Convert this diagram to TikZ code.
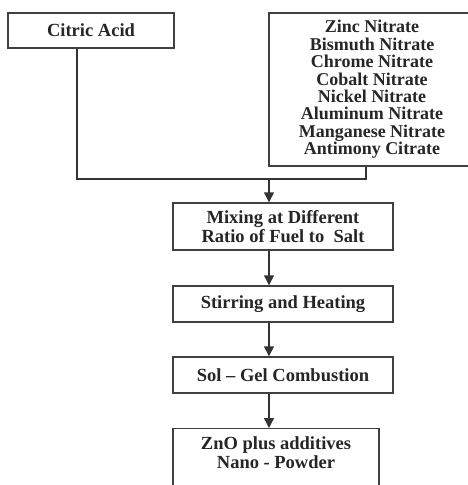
\documentclass[tikz,border=0pt]{standalone}
\usepackage{fontspec}
\setmainfont{Liberation Serif}
\usetikzlibrary{arrows.meta}
\begin{document}
\begin{tikzpicture}[x=1pt,y=-1pt,
  box/.style={draw=black!75, line width=1.4pt, fill=white,
    font=\bfseries\fontsize{18.5}{19}\selectfont, text=black!85,
    align=center, inner sep=0pt},
  conn/.style={draw=black!80, line width=1.4pt},
  arr/.style={conn, -{Triangle[width=10pt,length=10pt]}}]
\useasboundingbox (0,0) rectangle (468,485);
\clip (0,0) rectangle (468,485);
\node[box, minimum width=166pt, minimum height=35pt] (citric) at (91,30.5) {Citric Acid};
\node[box, minimum width=206pt, minimum height=153pt,
  font=\bfseries\fontsize{18}{17.4}\selectfont] (salts) at (372,89.5)
  {Zinc Nitrate\\Bismuth Nitrate\\Chrome Nitrate\\Cobalt Nitrate\\Nickel Nitrate\\Aluminum Nitrate\\Manganese Nitrate\\Antimony Citrate};
\node[box, minimum width=220pt, minimum height=47pt] (mix) at (283,226.5)
  {Mixing at Different\\Ratio of Fuel to\ \ Salt};
\node[box, minimum width=220pt, minimum height=36pt] (stir) at (283,304) {Stirring and Heating};
\node[box, minimum width=220pt, minimum height=36pt] (solgel) at (283,375) {Sol -- Gel Combustion};
\node[box, minimum width=206pt, text height=40pt, text depth=60pt, anchor=north] (zno) at (276,428)
  {ZnO plus additives\\Nano - Powder};
\coordinate (j1) at (77,179);
\coordinate (j2) at (366,179);
\coordinate (j3) at (269,179);
\draw[conn] (citric.south -| j1) -- (j1) -- (j2) -- (salts.south -| j2);
\draw[arr] (j3) -- (mix.north -| j3);
\draw[arr] (mix.south -| j3) -- (stir.north -| j3);
\draw[arr] (stir.south -| j3) -- (solgel.north -| j3);
\draw[arr] (solgel.south -| j3) -- (zno.north -| j3);
\end{tikzpicture}
\end{document}
